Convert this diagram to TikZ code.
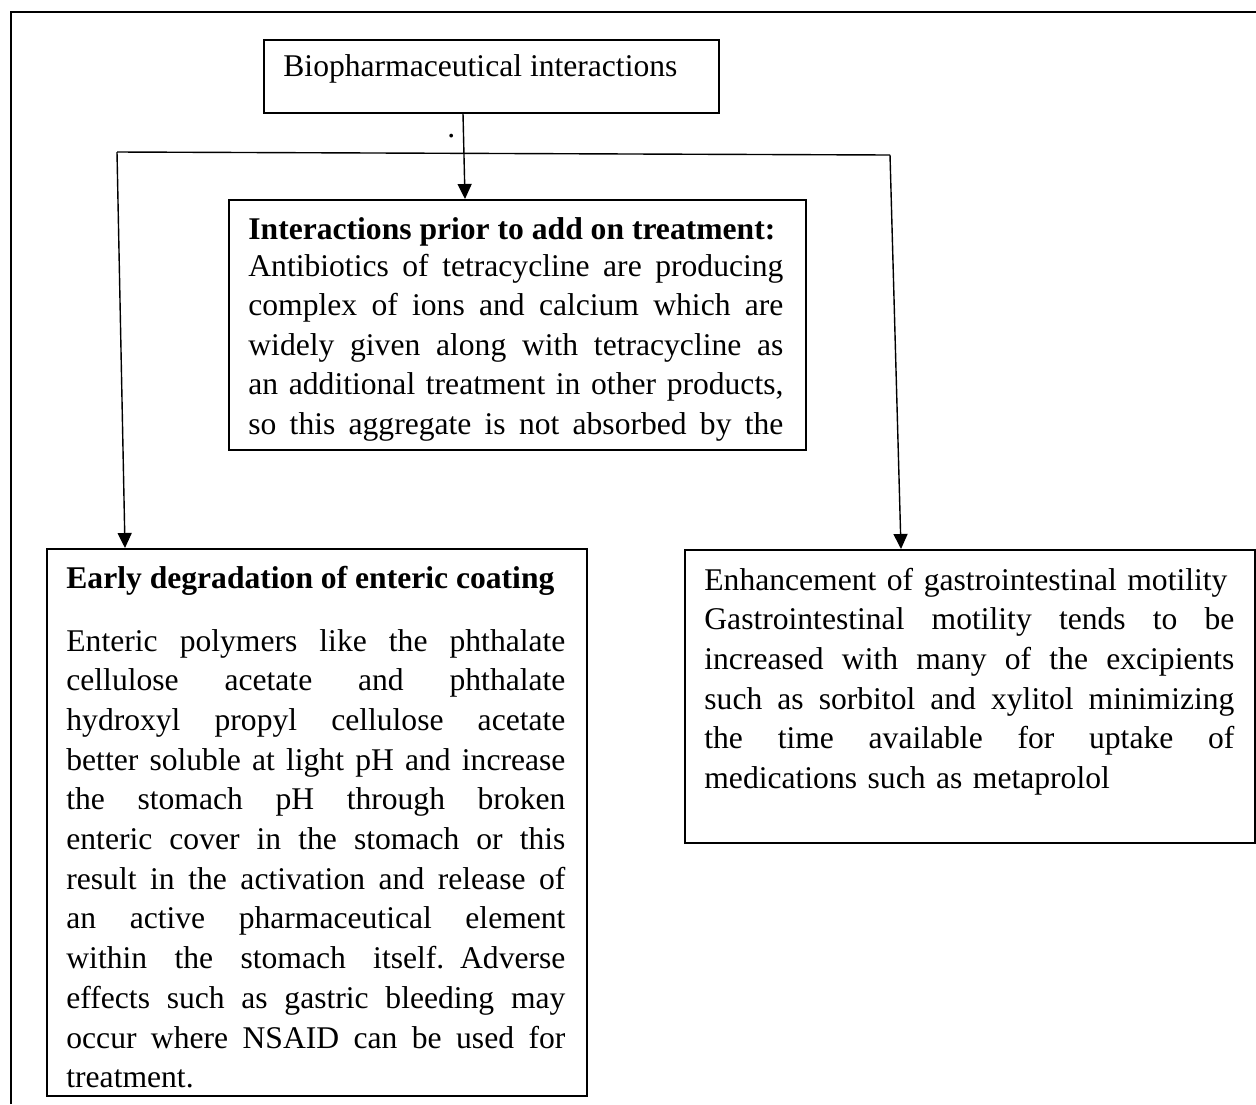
\documentclass[tikz,border=0pt]{standalone}
\usepackage{fontspec}
\setmainfont{Liberation Serif}
\usetikzlibrary{arrows.meta,calc}
\newcommand{\jl}[2]{\leavevmode\hbox to #1{\spaceskip=0.25em plus 1fil\relax #2}}
\begin{document}
\begin{tikzpicture}[x=0.5pt,y=-0.5pt,
  box/.style={draw,line width=0.75pt,inner sep=0pt,anchor=north west},
  txt/.style={inner sep=0pt,anchor=base west,align=left,font=\fontsize{15.8}{19.85}\selectfont},
  conn/.style={line width=0.7pt},
  arr/.style={conn,-{Triangle[length=7.5pt,width=7pt]}}]
\useasboundingbox (0,0) rectangle (1256,1104);
% outer frame
\draw[line width=1pt] (11,1104) -- (11,12) -- (1256,12);
% boxes
\node[box,minimum width=227.5pt,minimum height=36.5pt] (top) at (263,39) {};
\node[box,minimum width=288.5pt,minimum height=125pt] (mid) at (228,199) {};
\node[box,minimum width=270pt,minimum height=273.5pt] (left) at (46,548) {};
\node[box,minimum width=285pt,minimum height=146.5pt] (right) at (684,549) {};
% texts
\node[txt] (toptext) at (283,76) {Biopharmaceutical interactions};
\node[txt] (dot) at (447,137) {.};
\node[txt] (midtitle) at (248,239) {\textbf{Interactions prior to add on treatment:}};
\node[txt,text width=267.5pt,font=\fontsize{15.8}{19.75}\selectfont] (midbody) at (248,276)
 {\jl{267.5pt}{Antibiotics of tetracycline are producing}\\
  \jl{267.5pt}{complex of ions and calcium which are}\\
  \jl{267.5pt}{widely given along with tetracycline as}\\
  \jl{267.5pt}{an additional treatment in other products,}\\
  \jl{267.5pt}{so this aggregate is not absorbed by the}};
\node[txt] (lefttitle) at (66,588) {\textbf{Early degradation of enteric coating}};
\node[txt,text width=249.5pt] (leftbody) at (66,651)
 {\jl{249.5pt}{Enteric polymers like the phthalate}\\
  \jl{249.5pt}{cellulose acetate and phthalate}\\
  \jl{249.5pt}{hydroxyl propyl cellulose acetate}\\
  \jl{249.5pt}{better soluble at light pH and increase}\\
  \jl{249.5pt}{the stomach pH through broken}\\
  \jl{249.5pt}{enteric cover in the stomach or this}\\
  \jl{249.5pt}{result in the activation and release of}\\
  \jl{249.5pt}{an active pharmaceutical element}\\
  \jl{249.5pt}{within the stomach itself. Adverse}\\
  \jl{249.5pt}{effects such as gastric bleeding may}\\
  \jl{249.5pt}{occur where NSAID can be used for}\\
  treatment.};
\node[txt,text width=265pt] (rightbody) at (704,590)
 {Enhancement of gastrointestinal motility\\
  \jl{265pt}{Gastrointestinal motility tends to be}\\
  \jl{265pt}{increased with many of the excipients}\\
  \jl{265pt}{such as sorbitol and xylitol minimizing}\\
  \jl{265pt}{the time available for uptake of}\\
  medications such as metaprolol};
% connectors
\coordinate (jl) at (117,152);
\coordinate (jr) at (890,155);
\draw[arr] ($(top.south west)+(200,0)$) -- ($(mid.north west)+(237,0)$);
\draw[conn] (jl) -- (jr);
\draw[arr] (jl) -- ($(left.north west)+(79,0)$);
\draw[arr] (jr) -- ($(right.north west)+(217,0)$);
\end{tikzpicture}
\end{document}
